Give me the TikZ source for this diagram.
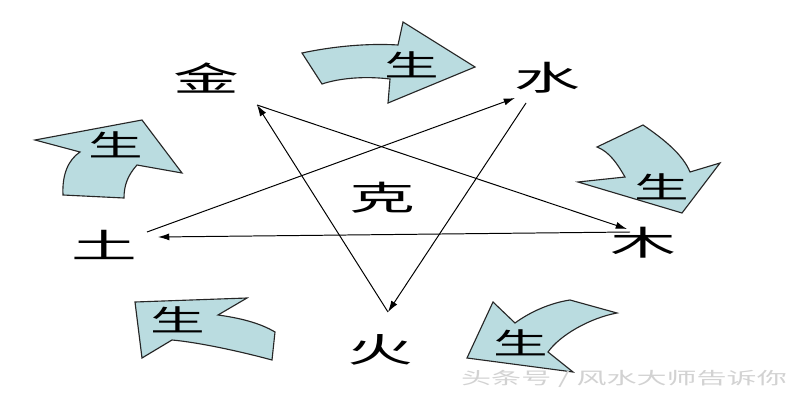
\documentclass[tikz,border=0pt]{standalone}
\usepackage{fontspec}
\usepackage{xcolor}
\usepackage{tikz}
\usetikzlibrary{arrows.meta}
\newfontfamily\cjk{Noto Sans CJK SC}
\definecolor{shengblue}{RGB}{186,220,224}
\newcommand\stretchx[2][1.95]{\scalebox{#1}[1]{#2}}

\begin{document}
\begin{tikzpicture}[
    x=0.025cm, y=-0.025cm,
    elem/.style={inner sep=0pt, font=\cjk\fontsize{24}{24}\selectfont},
    shenglabel/.style={inner sep=0pt, font=\cjk\fontsize{21}{21}\selectfont},
    shengarrow/.style={fill=shengblue, draw=black!85, line width=0.8pt, line join=miter},
    kearrow/.style={-{Latex[length=8pt,width=5pt]}, line width=0.7pt},
    watermark/.style={inner sep=0pt, text=gray!35, font=\cjk\fontsize{12}{12}\selectfont}
  ]
  \useasboundingbox[fill=white] (0,0) rectangle (800,400);

  % the five sheng arrows round the circle
  \draw[shengarrow] (302,53) .. controls (330,47) and (365,43) .. (398,45) -- (403,22)
    -- (475,67) -- (388,103) -- (390,79) .. controls (365,76) and (340,78) .. (322,84) -- cycle;
  \draw[shengarrow] (597,147) -- (643,125) .. controls (665,140) and (683,155) .. (690,172)
    -- (720,163) -- (682,213) -- (578,182) -- (625,177) .. controls (618,165) and (610,152) .. (597,147) -- cycle;
  \draw[shengarrow] (570,300) -- (617,313) .. controls (590,318) and (560,335) .. (548,352)
    -- (573,372) -- (467,358) -- (493,302) -- (515,323) .. controls (530,312) and (550,303) .. (570,300) -- cycle;
  \draw[shengarrow] (135,302) -- (247,298) -- (218,315) .. controls (240,318) and (260,323) .. (275,332)
    -- (272,360) .. controls (235,350) and (195,342) .. (172,340) -- (142,358) -- cycle;
  \draw[shengarrow] (63,195) .. controls (62,175) and (68,160) .. (80,152) -- (35,140) -- (142,120)
    -- (182,173) -- (137,165) .. controls (128,175) and (124,185) .. (124,198) -- cycle;

  \node[shenglabel] (sheng1) at (412,65)  {\stretchx[1.85]{生}};
  \node[shenglabel] (sheng2) at (662,187) {\stretchx[1.85]{生}};
  \node[shenglabel] (sheng3) at (521,343) {\stretchx[1.85]{生}};
  \node[shenglabel] (sheng4) at (178,320) {\stretchx[1.85]{生}};
  \node[shenglabel] (sheng5) at (116,145) {\stretchx[1.85]{生}};

  % the five elements
  \node[elem] (jin)   at (206,78)  {\stretchx{金}};
  \node[elem] (shui)  at (547,78)  {\stretchx{水}};
  \node[elem] (mu)    at (643,243) {\stretchx{木}};
  \node[elem] (huo)   at (380,350) {\stretchx{火}};
  \node[elem] (tu)    at (104,245) {\stretchx{土}};
  \node[elem] (ke)    at (382,198) {\stretchx{克}};

  % line ends of the ke star
  \coordinate (jinP)  at (257,105);
  \coordinate (shuiP) at (515,98);
  \coordinate (shuiQ) at (526,103);
  \coordinate (muP)   at (627,229);
  \coordinate (muQ)   at (630,232);
  \coordinate (tuP)   at (158,237);
  \coordinate (tuQ)   at (147,232);
  \coordinate (huoP)  at (388,312);

  \draw[kearrow] (huoP)  -- (jinP);
  \draw[kearrow] (jinP)  -- (muP);
  \draw[kearrow] (muQ)   -- (tuP);
  \draw[kearrow] (tuQ)   -- (shuiP);
  \draw[kearrow] (shuiQ) -- (huoP);

  \node[watermark] (source) at (624,379) {\stretchx[1.78]{头条号 / 风水大师告诉你}};
\end{tikzpicture}
\end{document}
